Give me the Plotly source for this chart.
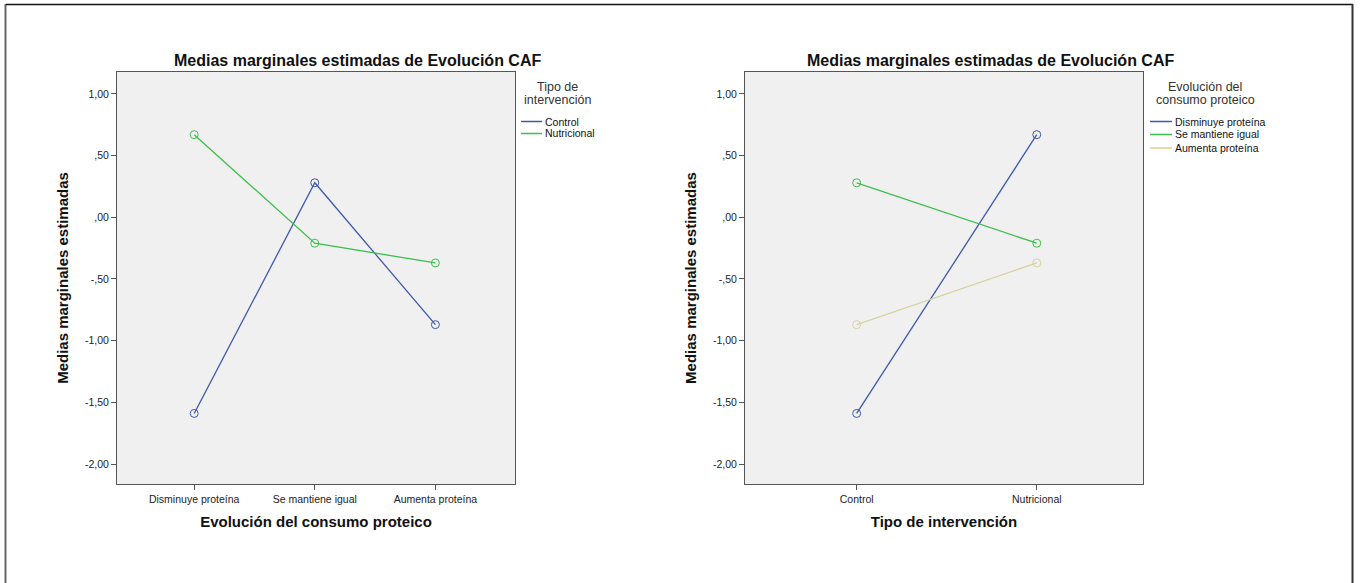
import plotly.graph_objects as go

# Estimated marginal means of "Evolución CAF"
evolucion = ["Disminuye proteína", "Se mantiene igual", "Aumenta proteína"]
intervencion = ["Control", "Nutricional"]

media_control = [-1.59, 0.28, -0.87]
media_nutricional = [0.67, -0.21, -0.37]

y_ticks = [1.0, 0.5, 0.0, -0.5, -1.0, -1.5, -2.0]
y_tick_labels = ["1,00", ",50", ",00", "-,50", "-1,00", "-1,50", "-2,00"]

titulo = "Medias marginales estimadas de Evolución CAF"
titulo_y = "Medias marginales estimadas"

AZUL = "#3E58AC"
VERDE = "#3CBF4C"
BEIGE = "#D6D29E"
FONT = "Liberation Sans, Arial, sans-serif"

W, H = 1360, 583


def px_x(p):
    return p / W


def px_y(p):
    return 1 - p / H


fig = go.Figure()

marker = dict(symbol="circle-open", size=8, line=dict(width=1))

# Left panel: lines by intervention type
series_izq = [("Control", media_control, AZUL),
              ("Nutricional", media_nutricional, VERDE)]
for name, vals, color in series_izq:
    fig.add_trace(go.Scatter(
        x=evolucion, y=vals, name=name, mode="lines+markers",
        line=dict(color=color, width=1.3), marker=dict(color=color, **marker),
        xaxis="x", yaxis="y", hoverinfo="skip"))

# Right panel: lines by protein consumption change
colores = [AZUL, VERDE, BEIGE]
series_der = []
for i, name in enumerate(evolucion):
    vals = [media_control[i], media_nutricional[i]]
    series_der.append((name, vals, colores[i]))
    fig.add_trace(go.Scatter(
        x=intervencion, y=vals, name=name, mode="lines+markers",
        line=dict(color=colores[i], width=1.3), marker=dict(color=colores[i], **marker),
        xaxis="x2", yaxis="y2", hoverinfo="skip"))

plot_top, plot_bot = 72, 484
ydom = [px_y(plot_bot), px_y(plot_top)]

axis_common = dict(showline=True, mirror=True, linecolor="#555", linewidth=1,
                   ticks="outside", ticklen=5, tickcolor="#555", showgrid=False,
                   zeroline=False, tickfont=dict(family=FONT, size=10.5, color="#222"))

yaxis_common = dict(axis_common, range=[-2.162, 1.178], tickvals=y_ticks,
                    ticktext=y_tick_labels, domain=ydom)

axis_title_font = dict(size=15, family=FONT, color="#111")

fig.update_layout(
    width=W, height=H,
    margin=dict(l=0, r=0, t=0, b=0),
    paper_bgcolor="white", plot_bgcolor="#F0F0F0",
    font=dict(family=FONT, color="#111"),
    showlegend=False,
    xaxis=dict(axis_common, domain=[px_x(117), px_x(515)], range=[-0.64, 2.66],
               type="category", anchor="y",
               title=dict(text="<b>Evolución del consumo proteico</b>",
                          font=axis_title_font, standoff=12)),
    yaxis=dict(yaxis_common, anchor="x",
               title=dict(text="<b>" + titulo_y + "</b>",
                          font=axis_title_font, standoff=12)),
    xaxis2=dict(axis_common, domain=[px_x(745), px_x(1143)], range=[-0.62, 1.59],
                type="category", anchor="y2",
                title=dict(text="<b>Tipo de intervención</b>",
                           font=axis_title_font, standoff=12)),
    yaxis2=dict(yaxis_common, anchor="x2",
                title=dict(text="<b>" + titulo_y + "</b>",
                           font=axis_title_font, standoff=12)),
)

# Panel titles
for cx in (357, 990):
    fig.add_annotation(text="<b>" + titulo + "</b>", xref="paper", yref="paper",
                       x=px_x(cx), y=px_y(60), xanchor="center", yanchor="middle",
                       showarrow=False, font=dict(size=16, family=FONT, color="#111"))


# Legends: title block and line samples
def draw_legend(title_lines, title_cx, line_x0, line_x1, row_ys, series):
    for k, line in enumerate(title_lines):
        fig.add_annotation(text=line, xref="paper", yref="paper",
                           x=px_x(title_cx), y=px_y(87 + 13.5 * k),
                           xanchor="center", yanchor="middle", showarrow=False,
                           font=dict(size=12.5, family=FONT, color="#333"))
    for (name, _, color), ry in zip(series, row_ys):
        fig.add_shape(type="line", xref="paper", yref="paper",
                      x0=px_x(line_x0), x1=px_x(line_x1),
                      y0=px_y(ry), y1=px_y(ry), line=dict(color=color, width=1.5))
        fig.add_annotation(text=name, xref="paper", yref="paper",
                           x=px_x(line_x1 + 1), y=px_y(ry),
                           xanchor="left", yanchor="middle", showarrow=False,
                           font=dict(size=10.5, family=FONT, color="#111"))


draw_legend(["Tipo de", "intervención"], 557, 521, 542, [121.5, 133.5], series_izq)
draw_legend(["Evolución del", "consumo proteico"], 1205, 1150, 1172,
            [121.5, 134.5, 148], series_der)

# Outer frame
fig.add_shape(type="line", xref="paper", yref="paper",
              x0=px_x(5.5), x1=px_x(5.5), y0=0, y1=px_y(4),
              line=dict(color="#666", width=2))
fig.add_shape(type="line", xref="paper", yref="paper",
              x0=px_x(6), x1=px_x(1353), y0=px_y(4.5), y1=px_y(4.5),
              line=dict(color="#111", width=1.5))
fig.add_shape(type="line", xref="paper", yref="paper",
              x0=px_x(1352.5), x1=px_x(1352.5), y0=0, y1=px_y(4),
              line=dict(color="#333", width=2))

fig.write_html("out.html")
